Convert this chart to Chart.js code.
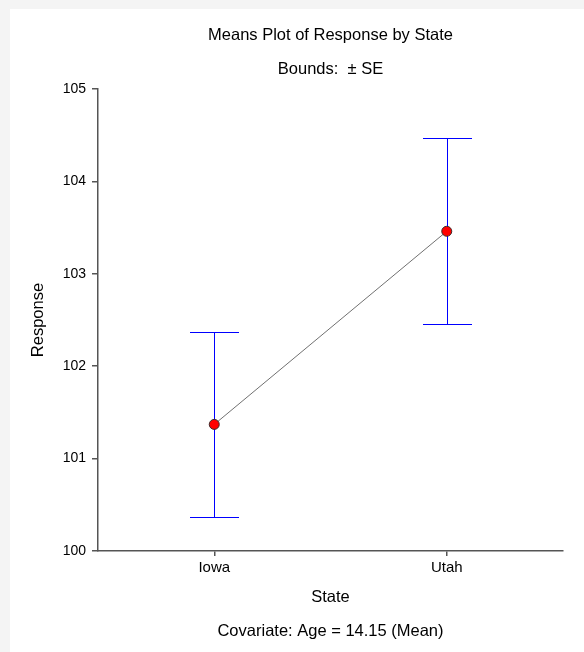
<!DOCTYPE html>
<html>
<head>
<meta charset="utf-8">
<script src="https://cdn.jsdelivr.net/npm/chart.js@4.4.1/dist/chart.umd.min.js"></script>
<style>
  html, body { margin: 0; padding: 0; background: #f4f4f4; width: 584px; height: 652px; overflow: hidden; }
  #panel { position: absolute; left: 10px; top: 9px; width: 574px; height: 643px; background: #ffffff; }
  canvas { display: block; }
</style>
</head>
<body>
<div id="panel"><canvas id="c" width="574" height="643"></canvas></div>
<script>
// ---- data ----
const states = ['Iowa', 'Utah'];
const means = [101.37, 103.46];
const upperBounds = [102.375, 104.465];
const lowerBounds = [100.365, 102.455];
const yTicks = [100, 101, 102, 103, 104, 105];

const titleText = 'Means Plot of Response by State';
const subtitleText = 'Bounds:  \u00B1 SE';
const footnoteText = 'Covariate: Age = 14.15 (Mean)';
const xTitle = 'State';
const yTitle = 'Response';

const FONT = 'Arial, "Liberation Sans", sans-serif';

const errorBarPlugin = {
  id: 'errorBars',
  beforeDatasetsDraw(chart) {
    const {ctx, scales: {x, y}} = chart;
    const capHalf = 24.5;
    ctx.save();
    ctx.strokeStyle = '#0000ff';
    ctx.lineWidth = 1;
    states.forEach((s, i) => {
      const px = Math.round(x.getPixelForValue(i + 1)) + 0.5;
      const pu = Math.round(y.getPixelForValue(upperBounds[i])) + 0.5;
      const pl = Math.round(y.getPixelForValue(lowerBounds[i])) + 0.5;
      ctx.beginPath();
      ctx.moveTo(px, pu); ctx.lineTo(px, pl);
      ctx.moveTo(px - capHalf, pu); ctx.lineTo(px + capHalf, pu);
      ctx.moveTo(px - capHalf, pl); ctx.lineTo(px + capHalf, pl);
      ctx.stroke();
    });
    ctx.restore();
  }
};

const textPlugin = {
  id: 'texts',
  afterDraw(chart) {
    const {ctx, chartArea} = chart;
    const cx = (chartArea.left + chartArea.right) / 2;
    ctx.save();
    ctx.fillStyle = '#000000';
    ctx.textAlign = 'center';
    ctx.textBaseline = 'middle';
    ctx.font = '16.5px ' + FONT;
    ctx.fillText(titleText, cx, 26);
    ctx.fillText(subtitleText, cx, 60);
    ctx.fillText(footnoteText, cx, 622);
    ctx.restore();
  }
};

new Chart(document.getElementById('c'), {
  type: 'line',
  data: {
    datasets: [{
      data: means.map((m, i) => ({x: i + 1, y: m})),
      borderColor: '#707070',
      borderWidth: 1,
      pointRadius: 5,
      pointHoverRadius: 5,
      pointBackgroundColor: '#ff0000',
      pointBorderColor: '#3a2a2a',
      pointBorderWidth: 1,
      tension: 0,
      fill: false
    }]
  },
  options: {
    responsive: false,
    animation: false,
    events: [],
    layout: { padding: { top: 80, right: 21, bottom: 41, left: 0 } },
    plugins: {
      legend: { display: false },
      tooltip: { enabled: false },
      title: { display: false }
    },
    scales: {
      x: {
        type: 'linear',
        min: 0.5,
        max: 2.5,
        afterBuildTicks: (scale) => { scale.ticks = states.map((s, i) => ({value: i + 1})); },
        afterFit: (scale) => { scale.height = 60; },
        ticks: {
          callback: (v) => states[v - 1],
          color: '#000000',
          font: { family: FONT, size: 15 },
          padding: 3,
          maxRotation: 0,
          autoSkip: false
        },
        grid: { drawOnChartArea: false, drawTicks: true, tickLength: 5, color: '#555555', lineWidth: 1.5 },
        border: { display: true, color: '#555555', width: 1.5 },
        title: { display: true, text: xTitle, color: '#000000', font: { family: FONT, size: 16.5 }, padding: { top: 4, bottom: 4.1 } }
      },
      y: {
        type: 'linear',
        min: 100,
        max: 105,
        afterBuildTicks: (scale) => { scale.ticks = yTicks.map(v => ({value: v})); },
        afterFit: (scale) => { scale.width = 88; },
        ticks: {
          color: '#000000',
          font: { family: FONT, size: 14 },
          padding: 6
        },
        grid: { drawOnChartArea: false, drawTicks: true, tickLength: 6, color: '#555555', lineWidth: 1.5 },
        border: { display: true, color: '#555555', width: 1.5 },
        title: { display: true, text: yTitle, color: '#000000', font: { family: FONT, size: 16.5 }, padding: { top: 18.6, bottom: 0 } }
      }
    }
  },
  plugins: [errorBarPlugin, textPlugin]
});
</script>
</body>
</html>
